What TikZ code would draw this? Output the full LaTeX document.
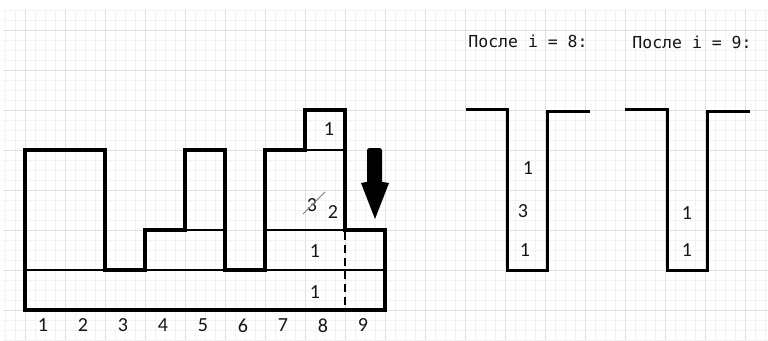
\documentclass[tikz,border=0pt]{standalone}
\usepackage{fontspec}
\setmainfont{Carlito}
\newfontfamily\monofont{DejaVu Sans Mono}
\definecolor{gridminor}{HTML}{F2F2F2}
\definecolor{gridmajor}{HTML}{E0E0E0}
\definecolor{inkc}{HTML}{151515}
\tikzset{
  wall/.style={line width=4pt, line join=miter, line cap=rect},
  divider/.style={line width=2pt},
  well/.style={line width=3pt, line join=miter, line cap=rect},
  num/.style={font=\fontsize{20}{20}\selectfont, text=inkc, inner sep=0pt},
  caption/.style={font=\monofont\fontsize{16.5}{16.5}\selectfont, text=inkc, inner sep=0pt},
}
\begin{document}
\begin{tikzpicture}[x=1pt, y=-1pt]
\useasboundingbox (0,0) rectangle (768,340);
\fill[white] (0,0) rectangle (768,340);
% squared paper
\foreach \gx in {5,15,...,765} \draw[gridminor, line width=1pt] (\gx,10) -- (\gx,340);
\foreach \gy in {10,20,...,340} \draw[gridminor, line width=1pt] (3,\gy) -- (768,\gy);
\foreach \gx in {25,65,...,745} \draw[gridmajor, line width=1pt] (\gx,10) -- (\gx,340);
\foreach \gy in {30,70,...,310} \draw[gridmajor, line width=1pt] (3,\gy) -- (768,\gy);

% inner layer lines of the histogram
\draw[divider] (25,270) -- (385,270);
\draw[divider] (185,230) -- (225,230);
\draw[divider] (265,230) -- (345,230);
\draw[divider] (305,150) -- (345,150);
\draw[line width=1.3pt, dash pattern=on 8pt off 5pt] (345,232) -- (345,310);

% histogram outline
\draw[wall] (25,310) -- (25,150) -- (105,150) -- (105,270) -- (145,270)
  -- (145,230) -- (185,230) -- (185,150) -- (225,150) -- (225,270)
  -- (265,270) -- (265,150) -- (305,150) -- (305,110) -- (345,110)
  -- (345,230) -- (385,230) -- (385,310) -- cycle;

% down arrow over column 9
\fill[black, rounded corners=2.5pt] (367,183) -- (367,148) -- (382,148) -- (382,183);
\fill[black] (366,182) -- (383,182) -- (389,183) -- (375,219) -- (361,183) -- cycle;

% values inside the columns
\node[num] (c8top) at (329,129) {1};
\node[num] (c8old) at (312,205) {3};
\draw[gray, line width=0.8pt] (303,214) -- (325,192);
\node[num] (c8new) at (333,212) {2};
\node[num] (c8mid) at (315,251) {1};
\node[num] (c8low) at (315,292) {1};

% column indices
\foreach \i in {1,...,9} \node[num] (idx\i) at ({43+40*(\i-1)},325.5) {\i};

% stack snapshots
\node[caption] (capA) at (528,41) {После i = 8:};
\node[caption] (capB) at (692,42) {После i = 9:};

\draw[well] (467,109) -- (507,109) -- (507,270) -- (547,270) -- (547,111) -- (588,111);
\draw[well] (626,109) -- (667,109) -- (667,270) -- (707,270) -- (707,111) -- (748,111);

\node[num] (sA1) at (528,168) {1};
\node[num] (sA2) at (523,211) {3};
\node[num] (sA3) at (525,250) {1};
\node[num] (sB1) at (687,213) {1};
\node[num] (sB2) at (687,250) {1};
\end{tikzpicture}
\end{document}
